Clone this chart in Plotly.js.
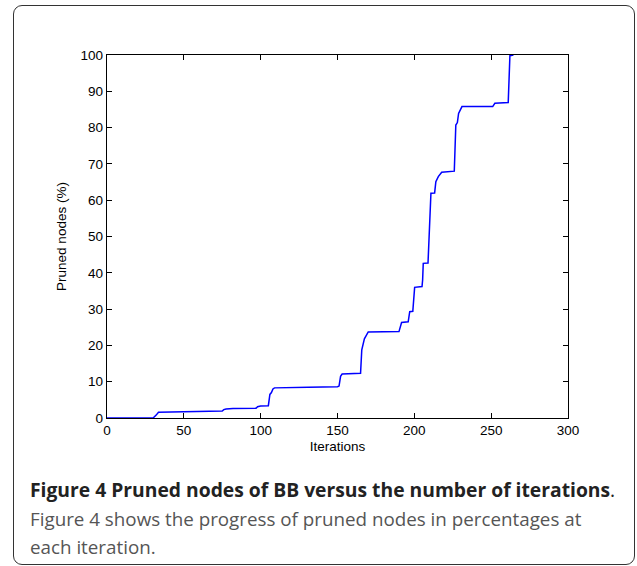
<!DOCTYPE html>
<html>
<head>
<meta charset="utf-8">
<script src="https://cdn.plot.ly/plotly-3.0.1.min.js"></script>
<style>
  html, body { margin:0; padding:0; background:#fff; }
  #wrap { position:relative; width:637px; height:566px; overflow:hidden; }
  #frame { position:absolute; left:13px; top:5px; width:622px; height:560px;
           border:1.5px solid #333; border-radius:9px; box-sizing:border-box; }
  #chart { position:absolute; left:0; top:0; width:637px; height:566px; }
  .cap { position:absolute; left:30px; font-family:"Open Sans", sans-serif; white-space:nowrap; }
  #c1 { top:476px; font-size:19.3px; font-weight:bold; color:#222; }
  #c2 { top:506px; font-size:18.8px; color:#555; }
  #c3 { top:534px; font-size:18.8px; color:#555; }
</style>
</head>
<body>
<div id="wrap">
  <div id="frame"></div>
  <div id="chart"></div>
  <div class="cap" id="c1">Figure 4 Pruned nodes of BB versus the number of iterations<span style="font-weight:normal">.</span></div>
  <div class="cap" id="c2">Figure 4 shows the progress of pruned nodes in percentages at</div>
  <div class="cap" id="c3">each iteration.</div>
</div>
<script>
// Data
const iterations = [0, 30, 32, 33.5, 50, 75, 76, 77.5, 82, 97, 98, 100, 105, 106, 107, 108, 109, 130, 131, 150, 151, 152, 153, 165, 165.8, 167.5, 168.5, 170, 190, 191.7, 196, 197, 199, 200.2, 205, 205.4, 205.8, 208.9, 210.8, 213.2, 214, 215.6, 217.8, 226, 227, 228, 228.8, 231, 251, 252.4, 261.1, 262.2, 264.5];
const prunedPct  = [0, 0, 0.8, 1.6, 1.7, 1.9, 2.3, 2.5, 2.6, 2.7, 3.1, 3.3, 3.4, 6.5, 7.0, 8.0, 8.3, 8.3, 8.5, 8.6, 8.8, 11.5, 12.1, 12.3, 18.8, 21.8, 22.5, 23.7, 23.8, 26.3, 26.5, 29.3, 29.4, 36.0, 36.2, 38.0, 42.6, 42.7, 61.9, 62.0, 65.1, 66.5, 67.7, 68.0, 80.7, 81.4, 83.9, 85.8, 85.8, 86.7, 86.9, 99.8, 100];
const xTicks = [0, 50, 100, 150, 200, 250, 300];
const yTicks = [0, 10, 20, 30, 40, 50, 60, 70, 80, 90, 100];

const trace = {
  x: iterations, y: prunedPct, type: 'scatter', mode: 'lines',
  line: {color: '#0000ff', width: 1.5}, hoverinfo: 'skip'
};

const tickFont = {family: 'Liberation Sans, Arial, sans-serif', size: 13.5, color: '#000'};
const titleFont = {family: 'Liberation Sans, Arial, sans-serif', size: 13.5, color: '#000'};
const layout = {
  width: 637, height: 566,
  margin: {l: 107, r: 69, t: 55, b: 148, pad: 0},
  paper_bgcolor: 'rgba(0,0,0,0)', plot_bgcolor: '#fff',
  showlegend: false,
  xaxis: {
    range: [0, 300], tickvals: xTicks, ticktext: xTicks.map(String),
    ticks: 'inside', ticklen: 5, tickcolor: '#000', tickwidth: 1,
    showline: true, linecolor: '#000', linewidth: 1.2, mirror: 'ticks',
    showgrid: false, zeroline: false, tickfont: tickFont,
    title: {text: 'Iterations', font: titleFont, standoff: 4}
  },
  yaxis: {
    range: [0, 100], tickvals: yTicks, ticktext: yTicks.map(String),
    ticks: 'inside', ticklen: 5, tickcolor: '#000', tickwidth: 1,
    showline: true, linecolor: '#000', linewidth: 1.2, mirror: 'ticks',
    showgrid: false, zeroline: false, tickfont: tickFont,
    title: {text: 'Pruned nodes (%)', font: titleFont, standoff: 10}
  }
};
Plotly.newPlot('chart', [trace], layout, {displayModeBar: false, staticPlot: true});
</script>
</body>
</html>
